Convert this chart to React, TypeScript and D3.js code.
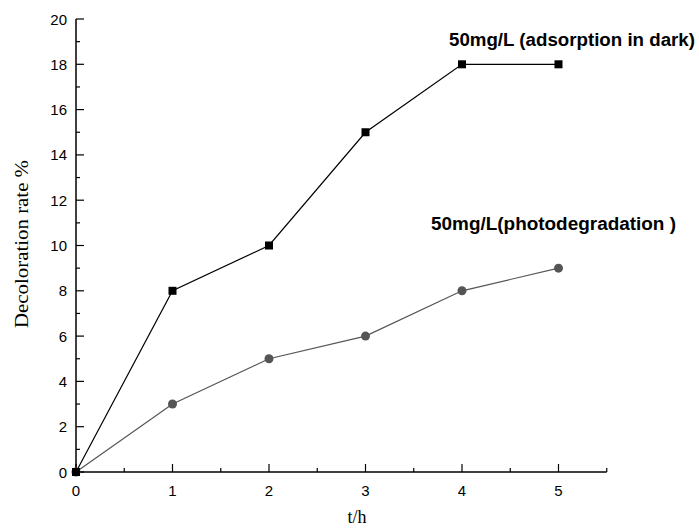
import React from "react";
import * as d3 from "d3";

const hours = [0, 1, 2, 3, 4, 5];
const adsorptionDark = [0, 8, 10, 15, 18, 18];
const photodegradation = [0, 3, 5, 6, 8, 9];
const xTicks = [0, 1, 2, 3, 4, 5];
const yTicks = [0, 2, 4, 6, 8, 10, 12, 14, 16, 18, 20];

const W = 699;
const H = 528;
const left = 76;
const bottom = 472;
const top = 19;

export default function App() {
  const x = d3.scaleLinear().domain([0, 5.5]).range([left, left + 96.5 * 5.5]);
  const y = d3.scaleLinear().domain([0, 20]).range([bottom, top]);
  const line = d3
    .line<number>()
    .x((_, i) => x(hours[i]))
    .y((d) => y(d));

  const xMinor = d3.range(0.5, 5.51, 1);
  const yMinor = d3.range(1, 20, 2);
  const sans = "'Liberation Sans', Arial, sans-serif";
  const serif = "'Liberation Serif', 'Times New Roman', serif";

  return (
    <svg
      width={W}
      height={H}
      style={{ position: "absolute", left: 0, top: 0, background: "#fff" }}
    >
      {/* axes */}
      <line x1={x(0)} x2={x(0)} y1={y(20)} y2={y(0)} stroke="#000" strokeWidth={1.5} />
      <line x1={x(0)} x2={x(5.5)} y1={y(0)} y2={y(0)} stroke="#000" strokeWidth={1.5} />
      {yTicks.map((t) => (
        <g key={"y" + t}>
          <line x1={x(0)} x2={x(0) + 8} y1={y(t)} y2={y(t)} stroke="#000" strokeWidth={1.2} />
          <text
            x={x(0) - 9}
            y={y(t) + 5.5}
            textAnchor="end"
            fontFamily={sans}
            fontSize={15}
          >
            {t}
          </text>
        </g>
      ))}
      {yMinor.map((t) => (
        <line key={"ym" + t} x1={x(0)} x2={x(0) + 4} y1={y(t)} y2={y(t)} stroke="#000" strokeWidth={1.2} />
      ))}
      {xTicks.map((t) => (
        <g key={"x" + t}>
          <line x1={x(t)} x2={x(t)} y1={y(0)} y2={y(0) - 8} stroke="#000" strokeWidth={1.2} />
          <text x={x(t)} y={y(0) + 24} textAnchor="middle" fontFamily={sans} fontSize={15}>
            {t}
          </text>
        </g>
      ))}
      {xMinor.map((t) => (
        <line key={"xm" + t} x1={x(t)} x2={x(t)} y1={y(0)} y2={y(0) - 4} stroke="#000" strokeWidth={1.2} />
      ))}

      {/* axis titles */}
      <text x={357} y={523} textAnchor="middle" fontFamily={serif} fontSize={18}>
        t/h
      </text>
      <text
        transform={`translate(28, 244) rotate(-90)`}
        textAnchor="middle"
        fontFamily={serif}
        fontSize={19.5}
        textLength={168}
        lengthAdjust="spacingAndGlyphs"
      >
        Decoloration rate %
      </text>

      {/* series */}
      <path d={line(photodegradation) || ""} fill="none" stroke="#555" strokeWidth={1.2} />
      {photodegradation.map((v, i) => (
        <circle key={"c" + i} cx={x(hours[i])} cy={y(v)} r={4.5} fill="#555" />
      ))}
      <path d={line(adsorptionDark) || ""} fill="none" stroke="#000" strokeWidth={1.2} />
      {adsorptionDark.map((v, i) => (
        <rect key={"s" + i} x={x(hours[i]) - 4} y={y(v) - 4} width={8} height={8} fill="#000" />
      ))}

      {/* labels */}
      <text x={449} y={46} fontFamily={sans} fontSize={18.8} fontWeight="bold" textLength={246} lengthAdjust="spacingAndGlyphs">
        50mg/L (adsorption in dark)
      </text>
      <text x={431} y={230} fontFamily={sans} fontSize={18.8} fontWeight="bold" textLength={245} lengthAdjust="spacingAndGlyphs">
        50mg/L(photodegradation )
      </text>
    </svg>
  );
}
